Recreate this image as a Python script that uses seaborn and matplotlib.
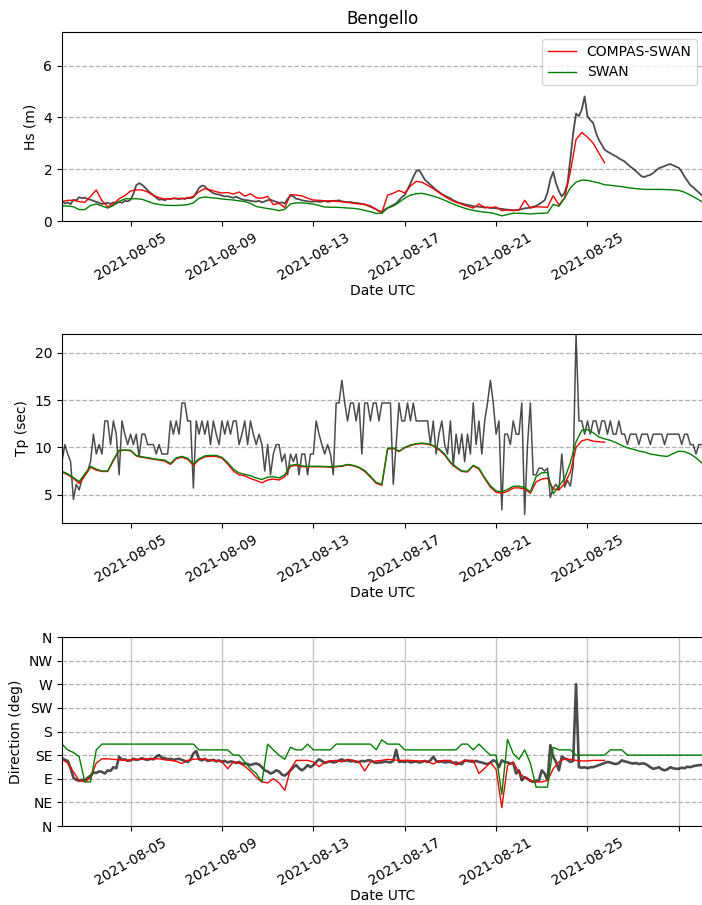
import pandas as pd
import seaborn as sns
import matplotlib.pyplot as plt

start = "2021-08-02 00:00"

# significant wave height (m)
hs_compas = [
    0.75, 0.80, 0.80, 0.75, 0.72, 0.95, 1.20, 0.78, 0.55, 0.65, 0.86, 0.98,
    1.16, 1.20, 1.20, 1.12, 0.98, 0.90, 0.85, 0.86, 0.88, 0.86, 0.88, 0.95,
    1.13, 1.25, 1.20, 1.13, 1.08, 1.10, 1.04, 1.12, 0.96, 1.05, 0.90, 0.88,
    0.95, 0.63, 0.68, 0.52, 1.02, 1.00, 0.97, 0.88, 0.81, 0.80, 0.78, 0.78,
    0.76, 0.74, 0.72, 0.68, 0.66, 0.64, 0.58, 0.45, 0.32, 1.00, 1.07, 1.18,
    1.08, 1.35, 1.53, 1.50, 1.38, 1.25, 1.10, 0.95, 0.82, 0.72, 0.65, 0.57,
    0.50, 0.66, 0.52, 0.52, 0.54, 0.40, 0.43, 0.40, 0.42, 0.80, 0.50, 0.55,
    0.54, 0.53, 0.98, 0.62, 0.90, 1.90, 3.15, 3.42, 3.24, 3.00, 2.62, 2.25,
]
hs_swan = [
    0.58, 0.58, 0.55, 0.44, 0.44, 0.60, 0.66, 0.58, 0.50, 0.60, 0.76, 0.85,
    0.86, 0.86, 0.84, 0.76, 0.68, 0.64, 0.61, 0.60, 0.60, 0.61, 0.63, 0.70,
    0.88, 0.93, 0.90, 0.88, 0.85, 0.83, 0.81, 0.78, 0.75, 0.68, 0.56, 0.52,
    0.48, 0.45, 0.40, 0.45, 0.66, 0.70, 0.70, 0.68, 0.65, 0.60, 0.54, 0.53,
    0.53, 0.52, 0.50, 0.49, 0.46, 0.41, 0.36, 0.29, 0.30, 0.50, 0.58, 0.72,
    0.88, 1.00, 1.05, 1.07, 1.02, 0.96, 0.89, 0.80, 0.70, 0.61, 0.53, 0.46,
    0.41, 0.37, 0.34, 0.32, 0.27, 0.20, 0.25, 0.30, 0.30, 0.29, 0.27, 0.29,
    0.30, 0.31, 0.64, 0.57, 0.88, 1.28, 1.50, 1.58, 1.57, 1.52, 1.47, 1.40,
    1.38, 1.35, 1.33, 1.29, 1.26, 1.24, 1.22, 1.22, 1.22, 1.22, 1.21, 1.20,
    1.18, 1.11, 1.00, 0.88, 0.75,
]
hs_obs = [
    0.75, 0.68, 0.72, 0.65, 0.82, 0.80, 0.92, 0.88,
    0.90, 0.85, 0.82, 0.78, 0.74, 0.70, 0.66, 0.68,
    0.70, 0.66, 0.72, 0.68, 0.74, 0.70, 0.78, 0.76,
    0.82, 1.05, 1.38, 1.46, 1.40, 1.30, 1.18, 1.08,
    1.00, 0.90, 0.82, 0.84, 0.80, 0.86, 0.84, 0.88,
    0.86, 0.84, 0.88, 0.85, 0.90, 0.88, 0.92, 1.10,
    1.28, 1.37, 1.34, 1.22, 1.15, 1.07, 1.04, 1.02,
    0.98, 0.95, 0.96, 0.92, 0.90, 0.94, 0.88, 0.84,
    0.81, 0.80, 0.78, 0.76, 0.75, 0.78, 0.72, 0.76,
    0.80, 0.82, 0.78, 0.74, 0.70, 0.72, 0.68, 0.85,
    1.00, 0.95, 0.86, 0.84, 0.80, 0.78, 0.76, 0.75,
    0.75, 0.76, 0.74, 0.75, 0.78, 0.74, 0.76, 0.78,
    0.78, 0.80, 0.76, 0.74, 0.72, 0.74, 0.70, 0.70,
    0.68, 0.66, 0.64, 0.60, 0.55, 0.50, 0.45, 0.38,
    0.36, 0.44, 0.50, 0.56, 0.62, 0.68, 0.80, 0.92,
    1.00, 1.22, 1.45, 1.70, 1.92, 1.97, 1.80, 1.60,
    1.50, 1.40, 1.30, 1.20, 1.12, 1.04, 0.98, 0.92,
    0.88, 0.80, 0.75, 0.70, 0.68, 0.64, 0.62, 0.60,
    0.57, 0.56, 0.55, 0.54, 0.52, 0.53, 0.50, 0.50,
    0.49, 0.48, 0.47, 0.45, 0.44, 0.43, 0.42, 0.42,
    0.43, 0.46, 0.49, 0.50, 0.52, 0.55, 0.58, 0.65,
    0.72, 0.80, 1.10, 1.60, 1.90, 1.45, 1.15, 0.95,
    1.10, 1.45, 2.40, 3.40, 4.15, 4.05, 4.30, 4.81,
    4.04, 3.90, 3.78, 3.40, 3.13, 2.95, 2.75, 2.68,
    2.62, 2.55, 2.50, 2.42, 2.36, 2.30, 2.20, 2.10,
    2.02, 1.92, 1.82, 1.72, 1.70, 1.75, 1.78, 1.85,
    1.95, 2.04, 2.08, 2.12, 2.17, 2.20, 2.15, 2.10,
    2.05, 1.90, 1.71, 1.55, 1.39, 1.30, 1.20, 1.10,
    1.00,
]

# peak period (s)
tp_compas = [
    7.40, 7.10, 6.70, 6.20, 7.00, 7.90, 7.60, 7.45, 7.45, 8.60, 9.65, 9.70,
    9.65, 9.10, 8.95, 8.85, 8.75, 8.65, 8.55, 8.20, 8.80, 8.95, 8.75, 8.10,
    8.70, 9.00, 9.05, 9.05, 8.85, 8.25, 7.50, 7.10, 7.00, 6.70, 6.50, 6.25,
    6.55, 6.65, 6.55, 6.90, 8.00, 8.10, 7.95, 7.95, 7.95, 7.95, 7.95, 7.90,
    7.95, 8.00, 8.15, 8.05, 7.85, 7.45, 6.85, 6.20, 6.00, 9.80, 9.90, 9.55,
    9.95, 10.20, 10.35, 10.40, 10.35, 10.15, 9.75, 9.20, 8.35, 7.85, 7.45, 7.40,
    8.05, 7.70, 6.70, 5.80, 5.25, 5.15, 5.35, 5.70, 5.72, 5.60, 5.15, 6.35,
    6.65, 6.75, 5.60, 5.50, 6.20, 7.35, 10.00, 10.70, 10.85, 10.65, 10.60, 10.55,
]
tp_swan = [
    7.48, 7.20, 6.80, 6.40, 7.20, 8.00, 7.70, 7.50, 7.50, 8.70, 9.70, 9.72,
    9.70, 9.15, 9.00, 8.92, 8.80, 8.72, 8.65, 8.30, 8.90, 9.05, 8.85, 8.25,
    8.80, 9.10, 9.15, 9.15, 8.95, 8.40, 7.70, 7.30, 7.15, 7.00, 6.77, 6.60,
    6.85, 6.90, 6.77, 7.10, 8.10, 8.20, 8.05, 8.00, 8.00, 8.00, 7.98, 7.95,
    8.00, 8.05, 8.20, 8.10, 7.90, 7.55, 6.95, 6.30, 6.10, 9.90, 9.95, 9.60,
    10.00, 10.25, 10.40, 10.45, 10.40, 10.20, 9.85, 9.30, 8.45, 7.95, 7.50, 7.47,
    8.10, 7.80, 6.80, 5.95, 5.40, 5.30, 5.55, 5.88, 5.90, 5.75, 5.30, 6.90,
    7.32, 7.35, 5.10, 5.90, 6.70, 8.40, 10.60, 11.80, 11.90, 11.55, 11.10, 10.90,
    10.75, 10.50, 10.20, 9.95, 9.80, 9.62, 9.50, 9.30, 9.20, 9.10, 9.05, 9.35,
    9.60, 9.55, 9.30, 8.90, 8.36,
]
tp_obs = [
    8.5, 10.3, 9.3, 8.5, 4.5, 6.1, 5.5, 6.6,
    7.1, 7.5, 8.5, 11.4, 9.3, 10.3, 9.3, 12.8,
    12.8, 10.3, 12.8, 11.4, 7.1, 12.8, 11.4, 10.3,
    11.4, 10.3, 11.4, 9.0, 11.4, 11.4, 10.3, 10.3,
    10.3, 9.3, 10.3, 9.3, 9.3, 9.3, 12.8, 11.4,
    12.8, 11.4, 14.7, 14.7, 12.8, 12.8, 5.7, 12.8,
    11.4, 12.8, 11.4, 12.8, 10.3, 12.8, 11.4, 10.3,
    12.8, 11.4, 12.8, 11.4, 12.8, 12.8, 10.3, 11.4,
    12.8, 10.3, 12.8, 11.4, 10.3, 11.4, 10.3, 7.5,
    10.3, 7.1, 9.3, 10.3, 10.3, 8.5, 9.3, 7.1,
    9.3, 8.5, 9.3, 7.1, 9.3, 9.3, 7.1, 9.3,
    9.3, 12.8, 11.4, 10.3, 9.3, 10.3, 9.3, 7.1,
    14.7, 14.7, 17.1, 14.7, 12.8, 14.7, 14.7, 12.8,
    14.7, 9.3, 14.7, 14.7, 12.8, 14.7, 14.7, 12.8,
    14.7, 14.7, 14.7, 14.7, 6.1, 10.3, 14.7, 12.8,
    12.8, 14.7, 12.8, 14.7, 12.8, 12.8, 12.8, 12.8,
    12.8, 10.3, 12.8, 9.3, 11.4, 12.8, 10.3, 9.3,
    12.8, 8.0, 11.4, 9.3, 11.4, 8.5, 11.4, 9.3,
    14.7, 10.3, 12.8, 9.3, 12.8, 14.7, 17.1, 14.7,
    11.4, 12.8, 3.4, 11.4, 11.4, 10.3, 12.8, 11.4,
    11.4, 14.7, 2.9, 10.3, 14.7, 7.1, 7.1, 7.8,
    7.8, 7.5, 7.8, 4.7, 5.7, 6.1, 5.5, 9.3,
    5.8, 6.5, 5.9, 8.0, 22.0, 12.8, 12.8, 11.4,
    12.8, 11.4, 12.8, 12.8, 11.4, 12.8, 12.8, 11.4,
    12.8, 11.4, 11.4, 12.8, 11.4, 11.4, 10.3, 11.4,
    11.4, 11.4, 10.3, 11.4, 11.4, 11.4, 10.3, 11.4,
    11.4, 11.4, 11.4, 10.3, 11.4, 11.4, 11.4, 11.4,
    11.4, 10.3, 11.4, 11.4, 10.3, 10.3, 9.3, 10.3,
    10.3,
]

# mean wave direction (deg, coming from)
dir_compas = [
    127, 120, 103, 87, 84, 92, 120, 128, 128, 127, 126, 125,
    126, 127, 127, 128, 128, 128, 126, 125, 123, 119, 125, 127,
    128, 127, 125, 125, 123, 109, 122, 120, 114, 104, 93, 84,
    82, 90, 82, 68, 108, 125, 125, 125, 122, 113, 121, 124,
    125, 122, 127, 125, 122, 105, 122, 124, 125, 127, 126, 125,
    125, 125, 124, 124, 123, 118, 124, 125, 125, 116, 123, 125,
    125, 100, 110, 121, 108, 35, 115, 122, 102, 92, 87, 84,
    84, 87, 109, 122, 128, 127, 125, 124, 124, 125, 125, 125,
]
dir_swan = [
    156, 145, 140, 132, 84, 84, 145, 156, 156, 156, 156, 156,
    156, 156, 156, 156, 156, 156, 156, 156, 156, 156, 156, 156,
    145, 145, 145, 145, 145, 145, 135, 135, 122, 109, 100, 84,
    156, 145, 135, 127, 150, 145, 145, 156, 145, 145, 145, 145,
    156, 156, 156, 156, 156, 156, 156, 145, 164, 156, 156, 156,
    145, 145, 145, 145, 145, 145, 145, 145, 145, 145, 156, 156,
    145, 156, 145, 135, 135, 60, 165, 138, 127, 145, 120, 74,
    74, 74, 150, 145, 145, 145, 135, 135, 135, 135, 135, 135,
    145, 145, 145, 135, 135, 135, 135, 135, 135, 135, 135, 135,
    135, 135, 135, 135, 135,
]
dir_obs = [
    129, 126, 124, 110, 92, 88, 86, 88,
    87, 92, 96, 102, 101, 104, 103, 100,
    106, 105, 112, 110, 132, 126, 127, 124,
    125, 128, 126, 127, 129, 127, 126, 128,
    127, 132, 135, 130, 129, 127, 128, 126,
    127, 128, 126, 124, 122, 126, 138, 143,
    127, 125, 128, 124, 125, 126, 123, 125,
    122, 124, 121, 123, 122, 120, 122, 119,
    119, 118, 116, 118, 119, 117, 112, 106,
    104, 100, 102, 106, 104, 98, 96, 100,
    106, 112, 116, 110, 106, 110, 116, 112,
    116, 122, 127, 124, 120, 122, 123, 121,
    122, 125, 127, 124, 125, 123, 124, 122,
    122, 124, 123, 125, 125, 122, 120, 121,
    121, 123, 122, 121, 124, 145, 122, 123,
    122, 124, 121, 122, 123, 121, 122, 124,
    122, 125, 132, 124, 122, 123, 121, 122,
    122, 120, 121, 119, 118, 125, 124, 123,
    122, 124, 122, 121, 119, 118, 121, 125,
    123, 112, 125, 122, 121, 119, 120, 100,
    106, 87, 93, 90, 86, 84, 86, 87,
    106, 100, 87, 154, 132, 122, 106, 132,
    129, 126, 122, 124, 270, 112, 111, 112,
    110, 112, 112, 114, 116, 118, 120, 122,
    121, 119, 118, 120, 125, 123, 122, 120,
    119, 120, 118, 119, 119, 116, 112, 109,
    110, 112, 108, 106, 108, 112, 110, 109,
    109, 111, 110, 113, 112, 114, 115, 116,
    116,
]

compass_labels = ["N", "NE", "E", "SE", "S", "SW", "W", "NW", "N"]
tick_dates = pd.date_range("2021-08-05", "2021-08-29", freq="4D")

t_obs = pd.date_range(start, periods=len(hs_obs), freq="3h")
t_swan = pd.date_range(start, periods=len(hs_swan), freq="6h")
t_compas = pd.date_range(start, periods=len(hs_compas), freq="6h")

# === 2. Figure ===
fig = plt.figure(figsize=(7.02, 9.05), dpi=100)
left, width, height = 62 / 702, 642 / 702, 189 / 905
ax1 = fig.add_axes([left, 1 - 221 / 905, width, height])
ax2 = fig.add_axes([left, 1 - 523 / 905, width, height])
ax3 = fig.add_axes([left, 1 - 826 / 905, width, height])

panels = [
    (ax1, hs_obs, hs_compas, hs_swan, "Hs (m)", 1.3),
    (ax2, tp_obs, tp_compas, tp_swan, "Tp (sec)", 1.1),
    (ax3, dir_obs, dir_compas, dir_swan, "Direction (deg)", 1.9),
]
for ax, obs, compas, swan, ylab, lw_obs in panels:
    sns.lineplot(x=t_obs, y=obs, ax=ax, color="k", alpha=0.7, linewidth=lw_obs)
    sns.lineplot(x=t_compas, y=compas, ax=ax, color="red", linewidth=1.0,
                 label="COMPAS-SWAN" if ax is ax1 else None, legend=ax is ax1)
    sns.lineplot(x=t_swan, y=swan, ax=ax, color="green", linewidth=1.0,
                 label="SWAN" if ax is ax1 else None, legend=ax is ax1)
    ax.set_ylabel(ylab)
    ax.set_xlabel("Date UTC", labelpad=1)
    ax.set_xlim(pd.Timestamp(start), pd.Timestamp("2021-08-30 02:24"))
    ax.grid(axis="y", linestyle="--", color="#b0b0b0", linewidth=0.9)
    ax.set_axisbelow(True)

# === 3. Customize ===
ax1.set_title("Bengello", fontsize=12)
ax1.set_ylim(0, 7.3)
ax1.set_yticks([0, 2, 4, 6])
ax1.legend(loc="upper right", fontsize=10)

ax2.set_ylim(2.0, 22.0)
ax2.set_yticks([5, 10, 15, 20])

ax3.set_ylim(0, 360)
ax3.set_yticks(range(0, 361, 45))
ax3.set_yticklabels(compass_labels)
ax3.grid(axis="x", linestyle="-", color="#c8c8c8", linewidth=1.0)

for ax in (ax1, ax2, ax3):
    ticks = tick_dates if ax is ax3 else tick_dates[:-1]
    ax.set_xticks(ticks)
    labels = [d.strftime("%Y-%m-%d") for d in ticks]
    if ax is ax3:
        labels[-1] = ""
    ax.set_xticklabels(labels, rotation=30)

# === 4. Save ===
fig.savefig("out.png", dpi=100)
